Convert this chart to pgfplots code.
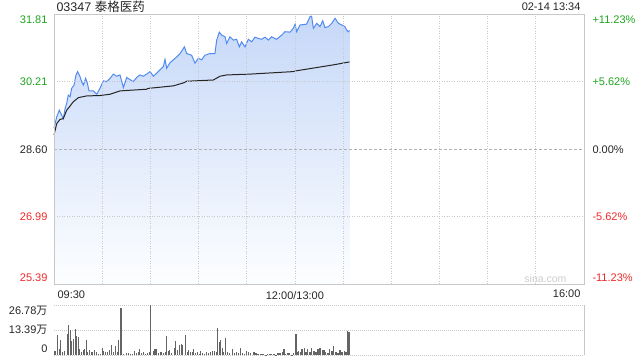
\documentclass[border=0pt]{standalone}
\usepackage{pgfplots}
\pgfplotsset{compat=1.18}
\usepackage{fontspec}
\setmainfont{Liberation Sans}
\newfontfamily\cjk{Noto Sans CJK SC}
\definecolor{upgreen}{RGB}{30,165,30}
\definecolor{downred}{RGB}{240,40,40}
\definecolor{pline}{RGB}{82,139,240}
\definecolor{fillTop}{RGB}{198,216,248}
\definecolor{fillBot}{RGB}{253,254,255}
\definecolor{gridc}{RGB}{200,200,200}
\definecolor{volc}{RGB}{100,100,100}
\begin{document}
\begin{tikzpicture}[font=\fontsize{11bp}{13bp}\selectfont]
\useasboundingbox (0,0) rectangle (640bp,-360bp);
\begin{axis}[
  at={(54bp,-14.5bp)}, anchor=north west,
  width=530bp, height=269.5bp, scale only axis,
  xmin=0, xmax=330, ymin=25.39, ymax=31.81,
  xtick={0,30,...,330}, ytick={25.39,26.99,30.21,31.81},
  xticklabels={}, yticklabels={},
  major tick length=0pt,
  grid=major, axis on top,
  major grid style={draw=gridc, line width=0.8bp, dash pattern=on 1bp off 1.5bp},
  axis line style={draw=gridc, line width=1bp},
  clip=false,
]
\addplot[draw=none, top color=fillTop, bottom color=fillBot] coordinates {
(0,29.10) (1.7,29.37) (3.3,29.53) (4.8,29.41) (5.8,29.33) (6.9,29.57) (7.9,29.69) (8.9,29.89) (10,29.85) (11,30.05) (12.5,30.13) (13.7,30.37) (14.7,30.45) (16.2,30.33) (17.2,30.21) (18.3,30.13) (19.7,30.29) (20.8,30.17) (21.8,29.99) (24.5,29.99) (26.6,29.91) (28.6,30.05) (30.7,30.23) (32.8,30.21) (34.9,30.29) (37,30.39) (39,30.34) (41.1,30.37) (43.2,30.07) (45.3,30.31) (47.3,30.26) (49.4,30.21) (51.5,30.31) (53.5,30.37) (55.6,30.34) (57.7,30.39) (59.8,30.45) (61.9,30.34) (63.9,30.41) (66,30.49) (68.1,30.57) (69.1,30.74) (70.2,30.53) (72.2,30.66) (74.3,30.73) (76.4,30.80) (78.5,30.88) (81.2,31.04) (82.6,30.88) (85.7,30.84) (87.8,30.65) (89.9,30.77) (91.9,30.73) (94,30.84) (97.1,30.88) (100.2,30.88) (101.3,31.20) (102.9,31.39) (104.4,31.32) (106.5,31.28) (107.5,31.12) (109.6,31.28) (111.7,31.20) (113.7,31.22) (115.4,31.04) (116.8,31.16) (118.9,31.04) (121,31.22) (123.1,31.16) (125.1,31.27) (127.2,31.24) (129.3,31.22) (131.4,31.27) (133.5,31.20) (135.5,31.28) (138.6,31.22) (141.8,31.32) (143.8,31.40) (147,31.39) (149,31.48) (150.1,31.58) (151.1,31.40) (153.2,31.56) (157.3,31.58) (159.4,31.76) (160.4,31.77) (161.5,31.48) (163.6,31.60) (165.6,31.52) (167.3,31.66) (168.7,31.50) (170.8,31.52) (172.9,31.60) (175,31.72) (177.1,31.60) (179.1,31.56) (181.2,31.52) (182.2,31.44) (183.3,31.40) (184,31.43)
} \closedcycle;
\addplot[draw=gray!60, line width=0.8bp, dash pattern=on 3bp off 2bp, forget plot] coordinates {(0,28.60) (330,28.60)};
\addplot[pline, line width=1bp] coordinates {
(0,29.10) (1.7,29.37) (3.3,29.53) (4.8,29.41) (5.8,29.33) (6.9,29.57) (7.9,29.69) (8.9,29.89) (10,29.85) (11,30.05) (12.5,30.13) (13.7,30.37) (14.7,30.45) (16.2,30.33) (17.2,30.21) (18.3,30.13) (19.7,30.29) (20.8,30.17) (21.8,29.99) (24.5,29.99) (26.6,29.91) (28.6,30.05) (30.7,30.23) (32.8,30.21) (34.9,30.29) (37,30.39) (39,30.34) (41.1,30.37) (43.2,30.07) (45.3,30.31) (47.3,30.26) (49.4,30.21) (51.5,30.31) (53.5,30.37) (55.6,30.34) (57.7,30.39) (59.8,30.45) (61.9,30.34) (63.9,30.41) (66,30.49) (68.1,30.57) (69.1,30.74) (70.2,30.53) (72.2,30.66) (74.3,30.73) (76.4,30.80) (78.5,30.88) (81.2,31.04) (82.6,30.88) (85.7,30.84) (87.8,30.65) (89.9,30.77) (91.9,30.73) (94,30.84) (97.1,30.88) (100.2,30.88) (101.3,31.20) (102.9,31.39) (104.4,31.32) (106.5,31.28) (107.5,31.12) (109.6,31.28) (111.7,31.20) (113.7,31.22) (115.4,31.04) (116.8,31.16) (118.9,31.04) (121,31.22) (123.1,31.16) (125.1,31.27) (127.2,31.24) (129.3,31.22) (131.4,31.27) (133.5,31.20) (135.5,31.28) (138.6,31.22) (141.8,31.32) (143.8,31.40) (147,31.39) (149,31.48) (150.1,31.58) (151.1,31.40) (153.2,31.56) (157.3,31.58) (159.4,31.76) (160.4,31.77) (161.5,31.48) (163.6,31.60) (165.6,31.52) (167.3,31.66) (168.7,31.50) (170.8,31.52) (172.9,31.60) (175,31.72) (177.1,31.60) (179.1,31.56) (181.2,31.52) (182.2,31.44) (183.3,31.40) (184,31.43)
};
\addplot[black!85, line width=1bp] coordinates {
(0,28.94) (1.7,29.21) (3.7,29.31) (5.8,29.33) (7.9,29.53) (10,29.63) (12,29.73) (15.2,29.83) (20.3,29.87) (28.6,29.88) (34.9,29.91) (41.1,29.99) (57.7,30.03) (58.7,30.05) (74.3,30.11) (80.5,30.18) (82.6,30.22) (99.2,30.25) (103.4,30.34) (107.5,30.37) (122,30.39) (149,30.45) (151.1,30.47) (173.9,30.61) (184,30.68)
};
% left price labels
\node[anchor=east, text=upgreen] at (axis cs:0,31.81) [xshift=-3bp, yshift=-5.5bp] {31.81};
\node[anchor=east, text=upgreen] at (axis cs:0,30.21) [xshift=-3bp] {30.21};
\node[anchor=east, text=black!85] at (axis cs:0,28.60) [xshift=-3bp] {28.60};
\node[anchor=east, text=downred] at (axis cs:0,26.99) [xshift=-3bp] {26.99};
\node[anchor=east, text=downred] at (axis cs:0,25.39) [xshift=-3bp, yshift=6bp] {25.39};
% right percent labels
\node[anchor=west, text=upgreen] at (axis cs:330,31.81) [xshift=5bp, yshift=-5.5bp] {+11.23\%};
\node[anchor=west, text=upgreen] at (axis cs:330,30.21) [xshift=5bp] {+5.62\%};
\node[anchor=west, text=black!85] at (axis cs:330,28.60) [xshift=5bp] {0.00\%};
\node[anchor=west, text=downred] at (axis cs:330,26.99) [xshift=5bp] {-5.62\%};
\node[anchor=west, text=downred] at (axis cs:330,25.39) [xshift=5bp, yshift=6bp] {-11.23\%};
% time labels
\node[anchor=west, text=black!85] at (axis cs:0,25.39) [yshift=-11bp] {09:30};
\node[text=black!85] at (axis cs:150,25.39) [yshift=-12bp] {12:00/13:00};
\node[anchor=east, text=black!85] at (axis cs:330,25.39) [yshift=-9.5bp] {16:00};
% title & date
\node[anchor=west, text=black!85, font=\fontsize{12.5bp}{14bp}\selectfont] at (axis cs:0,31.81) [yshift=7.5bp, xshift=-1bp] {03347 {\cjk 泰格医药}};
\node[anchor=east, text=black!85] at (axis cs:330,31.81) [yshift=7.5bp] {02-14 13:34};
\node[text=gray!40, font=\fontsize{10.5bp}{12bp}\selectfont] at (axis cs:306,25.39) [yshift=5bp] {sina.com};
\end{axis}
\begin{axis}[
  at={(54bp,-305bp)}, anchor=north west,
  width=530bp, height=50bp, scale only axis,
  xmin=0, xmax=330, ymin=0, ymax=26.78,
  ytick={0,13.39,26.78}, xtick=\empty, yticklabels={},
  major tick length=0pt,
  ymajorgrids,
  major grid style={draw=gridc, line width=1bp, dash pattern=on 1bp off 1bp},
  axis line style={draw=none},
  clip=false,
]
\addplot[ycomb, draw=volc, line width=1.1bp, mark=none] coordinates {
(0.6,2.1) (2.1,10.7) (3.3,3.2) (3.9,8.0) (5.2,1.4) (6.8,2.1) (8.3,11.1) (8.9,16.1) (10.1,13.4) (10.8,7.5) (12.0,8.6) (13.3,13.7) (13.9,10.4) (15.1,9.8) (15.8,3.2) (17.0,1.4) (18.3,2.7) (18.9,3.2) (20.1,8.0) (20.7,1.4) (22.0,2.7) (23.2,1.4) (23.8,1.8) (25.1,2.5) (26.3,1.8) (27.6,0.4) (28.8,0.7) (30.1,3.6) (30.7,2.1) (31.9,1.8) (33.2,1.8) (34.4,2.7) (35.7,5.4) (36.9,1.4) (38.2,4.8) (39.4,1.8) (40.0,8.2) (41.7,25.0) (43.2,0.4) (45.0,1.2) (46.3,1.2) (47.5,0.4) (48.7,0.7) (50.0,2.1) (51.2,0.9) (52.5,1.4) (53.1,3.0) (54.4,0.9) (55.6,1.8) (56.8,0.4) (58.1,0.9) (59.3,1.4) (60.0,27.0) (61.8,2.1) (62.9,3.2) (63.5,3.2) (64.9,0.9) (66.6,1.4) (68.1,0.9) (69.3,1.8) (69.9,10.2) (71.2,2.1) (71.8,2.7) (73.0,0.9) (74.9,3.6) (75.5,7.5) (76.8,2.7) (78.0,5.4) (79.3,5.7) (79.9,5.4) (81.7,10.7) (83.0,1.8) (83.6,2.7) (84.9,1.4) (86.1,1.8) (86.7,3.0) (88.0,0.9) (89.2,1.8) (90.5,0.4) (91.3,2.3) (92.6,0.9) (93.6,0.4) (94.8,1.4) (96.1,0.9) (97.3,1.4) (98.6,2.1) (99.8,2.1) (101.1,1.4) (101.7,14.6) (102.9,7.1) (103.5,8.0) (104.8,3.9) (105.4,1.4) (106.6,8.9) (107.9,1.4) (109.1,0.9) (111.0,3.0) (112.3,0.9) (113.5,1.4) (114.8,0.9) (116.0,3.6) (117.2,0.9) (118.5,0.4) (119.7,2.1) (121.0,1.8) (122.2,0.9) (124.1,1.8) (124.7,1.4) (125.8,0.9) (127.0,0.4) (128.3,0.4) (129.5,0.4) (130.7,0.4) (132.0,0.1) (133.2,0.4) (134.5,0.4) (135.7,0.4) (137.0,0.4) (138.2,0.1) (139.5,1.2) (140.7,0.9) (142.0,1.4) (143.2,3.0) (144.4,0.4) (145.7,0.9) (146.9,0.9) (148.2,0.1) (149.4,1.2) (150.7,11.1) (151.3,1.4) (152.5,2.1) (153.2,1.4) (154.4,3.0) (155.7,3.6) (156.9,1.8) (158.1,3.0) (159.4,1.4) (160.6,3.9) (161.9,2.1) (163.1,1.4) (164.4,3.0) (165.6,3.9) (166.9,2.7) (168.1,2.7) (169.3,1.8) (170.6,0.9) (171.8,3.0) (173.1,2.1) (174.3,5.0) (175.6,1.8) (176.8,0.9) (178.1,2.7) (179.3,1.4) (180.6,2.3) (181.8,1.8) (183.0,13.0) (183.7,12.5)
};
\draw[gridc, line width=1bp] (rel axis cs:1,0) -- (rel axis cs:1,1);
\node[anchor=east, text=black!85] at (axis cs:0,26.78) [xshift=-3bp, yshift=-6bp] {26.78{\cjk 万}};
\node[anchor=east, text=black!85] at (axis cs:0,13.39) [xshift=-3bp] {13.39{\cjk 万}};
\node[anchor=east, text=black!85] at (axis cs:0,0) [xshift=-3bp, yshift=6bp] {0};
\end{axis}
\end{tikzpicture}
\end{document}
